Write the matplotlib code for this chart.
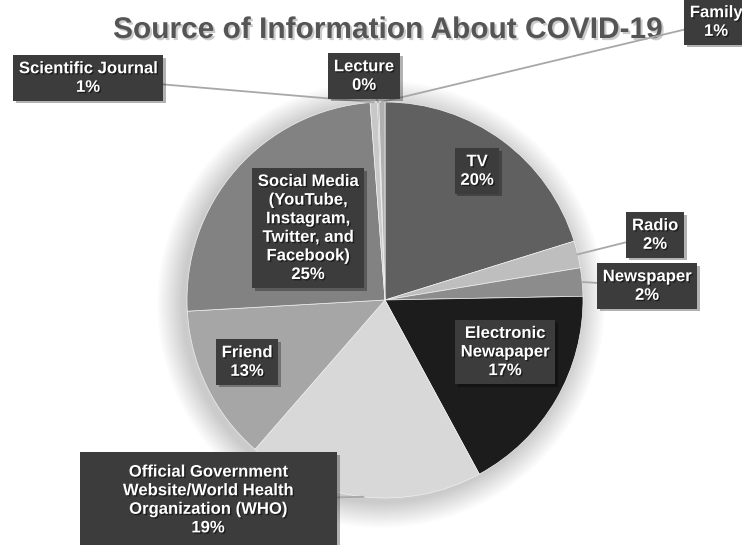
import numpy as np
import matplotlib.pyplot as plt
import matplotlib.patheffects as pe
from matplotlib.patches import Circle, Rectangle

W, H = 742, 545

# Data (clockwise from 12 o'clock)
sources = ['TV', 'Radio', 'Newspaper', 'Electronic\nNewapaper',
           'Official Government\nWebsite/World Health\nOrganization (WHO)',
           'Friend',
           'Social Media\n(YouTube,\nInstagram,\nTwitter, and\nFacebook)',
           'Scientific Journal', 'Lecture', 'Family']
shares = [20.2, 2.2, 2.3, 17.4, 19.3, 12.7, 24.7, 0.6, 0.1, 0.5]
shown_pct = [20, 2, 2, 17, 19, 13, 25, 1, 0, 1]

# Styling / layout (pixel coordinates, y measured from the top)
slice_colors = ['#606060', '#bebebe', '#8c8c8c', '#1c1c1c', '#d8d8d8',
                '#a6a6a6', '#828282', '#c8c8c8', '#969696', '#b0b0b0']
label_xy = [(477, 171), (655, 235), (647, 286), (505, 352), (208, 500),
            (247, 362), (308, 228), (88, 78), (364, 76), (716, 22)]
has_leader = [False, True, True, False, True, False, False, True, True, True]
own_box = [True] * 10
own_box[4] = False   # WHO label gets a wider box drawn separately

cx, cy, R = 385, H - 300, 198

fig = plt.figure(figsize=(W / 100, H / 100), dpi=100)
ax = fig.add_axes([0, 0, 1, 1])

# soft shadow around the pie
for k in range(26):
    ax.add_patch(Circle((cx - 4, cy - 4), R + 26 - k, color='black',
                        alpha=0.009, lw=0, zorder=0))

wedges, _ = ax.pie(shares, colors=slice_colors, startangle=90,
                   counterclock=False, center=(cx, cy), radius=R,
                   wedgeprops=dict(edgecolor='#f0f0f0', linewidth=0.5))

ax.set_xlim(0, W)
ax.set_ylim(0, H)
ax.set_aspect('equal')
ax.axis('off')

shadow = [pe.SimplePatchShadow(offset=(2, -2), shadow_rgbFace='black',
                               alpha=0.3), pe.Normal()]
text_fx = [pe.withSimplePatchShadow(offset=(1, -1), shadow_rgbFace='black',
                                    alpha=0.5)]

for i, w in enumerate(wedges):
    lx, ly = label_xy[i]
    if has_leader[i]:
        mid = np.radians((w.theta1 + w.theta2) / 2)
        ax.plot([cx + R * np.cos(mid), lx], [cy + R * np.sin(mid), H - ly],
                color='#a8a8a8', lw=1.3, zorder=4)
    box = dict(boxstyle='square,pad=0.35', fc='#3c3c3c', ec='none') if own_box[i] else None
    t = ax.text(lx, H - ly, f"{sources[i]}\n{shown_pct[i]}%",
                ha='center', va='center', color='white', fontsize=12,
                fontweight='bold', family='Liberation Sans', linespacing=1.3,
                bbox=box, zorder=6, path_effects=text_fx)
    if own_box[i]:
        t.get_bbox_patch().set_path_effects(shadow)

ax.add_patch(Rectangle((80, 0), 257, H - 452, fc='#3c3c3c', ec='none',
                       zorder=5, path_effects=shadow))

ax.text(388, H - 30, 'Source of Information About COVID-19', ha='center',
        va='center', fontsize=21.5, fontweight='bold', color='#555555',
        family='Liberation Sans',
        path_effects=[pe.withSimplePatchShadow(offset=(1.5, -1.5),
                                               shadow_rgbFace='#999999',
                                               alpha=0.5)])

fig.savefig('out.png', dpi=100)
